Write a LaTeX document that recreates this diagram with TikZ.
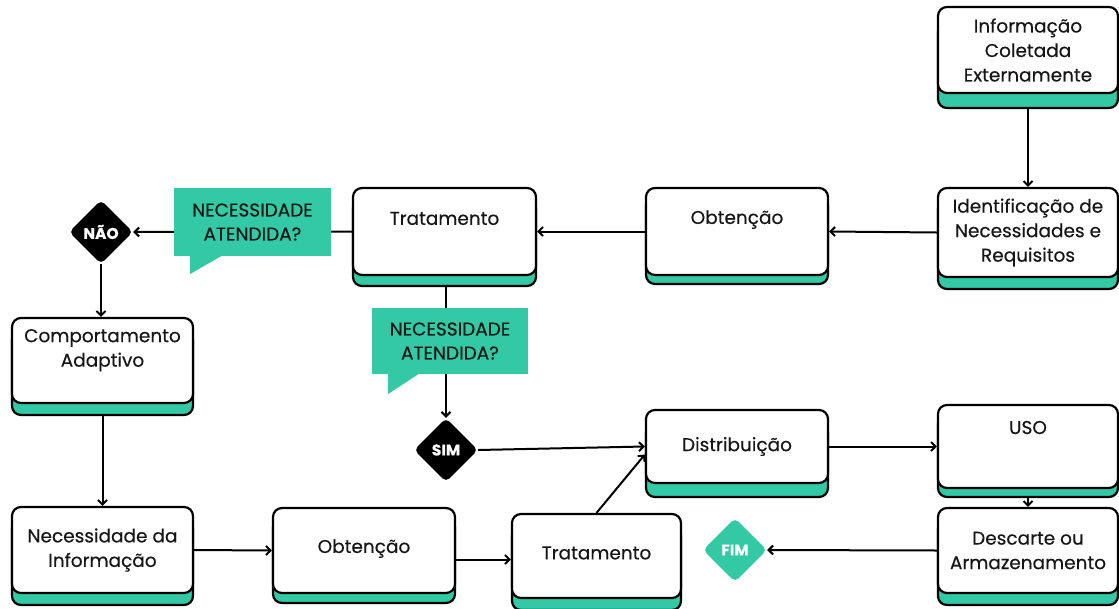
\documentclass[tikz,border=0pt]{standalone}
\usepackage{fontspec}
\setmainfont{Poppins}[FakeBold=0.3]
\usetikzlibrary{shapes.geometric,arrows.meta,shadows}
\definecolor{tealc}{RGB}{51,201,165}
\definecolor{ink}{RGB}{22,22,22}
\newcommand\liftt[2]{\raisebox{#1}[\height][\depth]{#2}}
\begin{document}
\begin{tikzpicture}[x=1pt,y=-1pt,
 card/.style={draw=black, line width=2.2pt, fill=white, rounded corners=9pt,
   inner sep=0pt, align=center, text=ink, font=\fontsize{18.5}{24.5}\selectfont,
   general shadow={fill=tealc, draw=black, line width=2.2pt, shadow xshift=0pt, shadow yshift=-#1}},
 card/.default=12pt,
 conn/.style={draw=black, line width=2pt, -{Straight Barb[length=4.5pt,width=9pt]}},
 dia/.style={diamond, aspect=1, minimum width=64pt, minimum height=64pt, inner sep=0pt,
   rounded corners=5pt, fill=black, text=white, font=\bfseries\fontsize{15.5}{15.5}\selectfont},
 bubble/.style={fill=tealc, inner sep=0pt, align=center, text=ink,
   font=\fontsize{18.5}{24}\selectfont}]
\useasboundingbox (0,0) rectangle (1119,608);
\fill[white] (0,0) rectangle (1119,608);

% cards
\node[card=15pt, minimum width=180pt, minimum height=86pt] (info) at (1028,50) {Informação\\Coletada\\Externamente};
\node[card, minimum width=180pt, minimum height=89pt] (ident) at (1028,232.5) {Identificação de\\Necessidades e\\Requisitos};
\node[card=9pt, minimum width=182pt, minimum height=87pt] (obt1) at (737,231.5) {\liftt{12pt}{Obtenção}};
\node[card=11pt, minimum width=183pt, minimum height=87pt] (trat1) at (444.5,231.5) {\liftt{13pt}{Tratamento}};
\node[card, minimum width=181pt, minimum height=85pt] (comp) at (102.5,360.5) {\liftt{11pt}{\renewcommand\arraystretch{1}\begin{tabular}{@{}c@{}}Comportamento\\Adaptivo\end{tabular}}};
\node[card, minimum width=181pt, minimum height=86pt] (nec) at (102.5,550) {Necessidade da\\Informação};
\node[card=10pt, minimum width=182pt, minimum height=85pt] (obt2) at (364,550.5) {\liftt{2pt}{Obtenção}};
\node[card, minimum width=169pt, minimum height=84pt] (trat2) at (596.5,556) {\liftt{3pt}{Tratamento}};
\node[card=14pt, minimum width=182pt, minimum height=73pt] (dist) at (737,446.5) {Distribuição};
\node[card=9pt, minimum width=180pt, minimum height=83pt] (uso) at (1028,446.5) {\liftt{19pt}{USO}};
\node[card, minimum width=180pt, minimum height=85pt] (desc) at (1028,550.5) {Descarte ou\\Armazenamento};

% diamonds
\node[dia] (nao) at (101,232) {NÃO};
\node[dia] (sim) at (446,450) {SIM};
\node[dia, fill=tealc] (fim) at (735,550) {FIM};

% connectors
\draw[conn] ([yshift=-15pt]info.south) -- (ident.north);
\draw[conn] (ident.west) -- (obt1.east);
\draw[conn] (obt1.west) -- (trat1.east);
\draw[conn] (trat1.west) -- (nao.east);
\draw[conn] (nao.south) -- (nao.south |- comp.north);
\draw[conn] ([yshift=-12pt]comp.south) -- (nec.north);
\draw[conn] (nec.east) -- (obt2.west);
\draw[conn] ([yshift=-9pt]obt2.east) -- ([yshift=-9pt]obt2.east -| trat2.west);
\draw[conn] (trat2.north) -- ([yshift=-8pt]dist.west);
\draw[conn] ([yshift=-11pt]trat1.south -| sim.north) -- (sim.north);
\draw[conn] (sim.east) -- (dist.west);
\draw[conn] (dist.east) -- (uso.west);
\draw[conn] ([yshift=-9pt]uso.south) -- (desc.north);
\draw[conn] (desc.west) -- (fim.east);

% speech bubbles
\node[bubble, minimum width=157pt, minimum height=68pt] (b1) at (252.5,222) {NECESSIDADE\\ATENDIDA?};
\fill[tealc] ([xshift=16pt,yshift=1pt]b1.south west) -- ++(0,19) -- ++(33,-19) -- cycle;
\node[bubble, minimum width=156pt, minimum height=66pt] (b2) at (450,341) {NECESSIDADE\\ATENDIDA?};
\fill[tealc] ([xshift=16pt,yshift=1pt]b2.south west) -- ++(0,21) -- ++(32,-21) -- cycle;
\end{tikzpicture}
\end{document}
